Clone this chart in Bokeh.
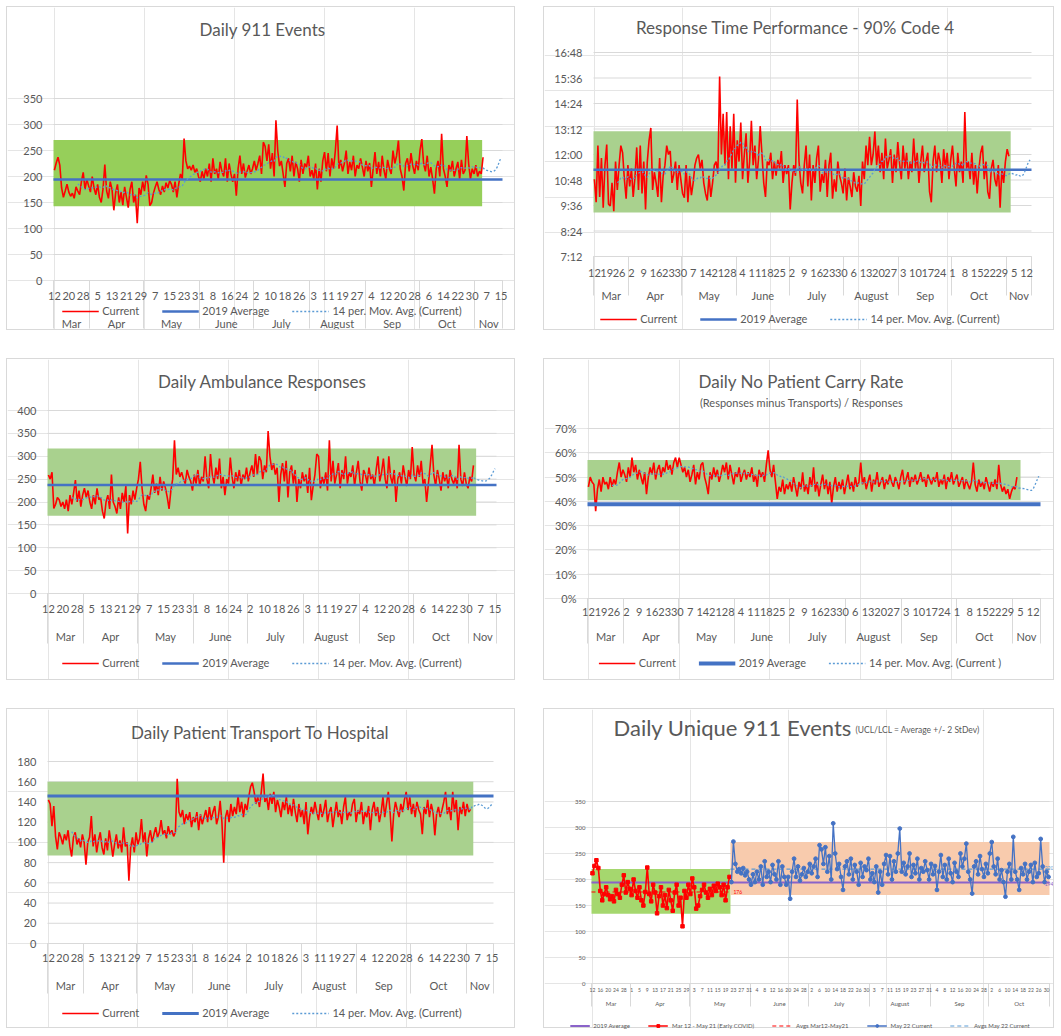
import datetime as dt
import pandas as pd
from bokeh.plotting import figure
from bokeh.layouts import column, row
from bokeh.models import FixedTicker, LinearAxis, Range1d, Legend, LegendItem, Label
from bokeh.embed import file_html
from bokeh.resources import INLINE
from bokeh.core.properties import value

# ---------------- categories / tick labels ----------------
START = dt.date(2020, 3, 12)
MONTH_NAMES = ["Mar", "Apr", "May", "June", "July", "August", "Sep", "Oct", "Nov"]
MONTH_FIRST_DAY = [0, 20, 50, 81, 111, 142, 173, 203, 234]   # day index of the 1st of each month

TICKS_8 = list(range(0, 249, 8))
LABELS_8 = [str((START + dt.timedelta(days=d)).day) for d in TICKS_8]
TICKS_7 = list(range(0, 246, 7))
LABELS_7 = [str((START + dt.timedelta(days=d)).day) for d in TICKS_7]
TICKS_4 = list(range(0, 233, 4))
LABELS_4 = [str((START + dt.timedelta(days=d)).day) for d in TICKS_4]

Y_EVENTS_TICKS = [0, 50, 100, 150, 200, 250, 300, 350]
Y_EVENTS_LABELS = [str(v) for v in Y_EVENTS_TICKS]
Y_RT_TICKS = [432, 504, 576, 648, 720, 792, 864, 936, 1008]
Y_RT_LABELS = ["7:12", "8:24", "9:36", "10:48", "12:00", "13:12", "14:24", "15:36", "16:48"]
Y_AMB_TICKS = [0, 50, 100, 150, 200, 250, 300, 350, 400]
Y_AMB_LABELS = [str(v) for v in Y_AMB_TICKS]
Y_NPC_TICKS = [0, 10, 20, 30, 40, 50, 60, 70]
Y_NPC_LABELS = [f"{v}%" for v in Y_NPC_TICKS]
Y_TR_TICKS = [0, 20, 40, 60, 80, 100, 120, 140, 160, 180]
Y_TR_LABELS = [str(v) for v in Y_TR_TICKS]

# ---------------- series values (daily, from Mar 12) ----------------
EVENTS = [
    212, 226, 237, 222, 178, 160, 172, 185, 170, 162,
    168, 158, 180, 172, 165, 190, 208, 175, 195, 182,
    170, 200, 178, 165, 185, 160, 150, 176, 223, 172,
    158, 190, 175, 135, 168, 185, 150, 170, 145, 180,
    160, 140, 175, 190, 150, 165, 110, 178, 165, 190,
    172, 202, 185, 144, 150, 168, 180, 190, 175, 165,
    182, 170, 188, 178, 192, 185, 170, 190, 160, 185,
    205, 195, 273, 230, 215, 220, 212, 222, 208, 215,
    200, 190, 210, 195, 215, 200, 225, 190, 235, 205,
    215, 195, 228, 210, 200, 235, 190, 225, 205, 190,
    205, 163, 215, 240, 205, 225, 198, 210, 222, 205,
    215, 230, 212, 225, 240, 205, 266, 258, 230, 262,
    215, 245, 200, 308, 250, 220, 230, 205, 180, 225,
    235, 210, 240, 200, 228, 215, 190, 232, 205, 225,
    218, 240, 200, 212, 195, 225, 175, 215, 190, 230,
    247, 210, 245, 200, 235, 215, 250, 298, 215, 232,
    210, 225, 250, 205, 228, 212, 240, 200, 222, 215,
    235, 218, 200, 230, 210, 226, 180, 215, 247, 205,
    228, 200, 240, 212, 195, 232, 215, 205, 250, 225,
    240, 269, 215, 200, 173, 225, 235, 210, 245, 220,
    205, 230, 212, 250, 272, 225, 210, 240, 200, 218,
    195, 167, 215, 230, 200, 282, 215, 200, 180, 222,
    210, 230, 200, 215, 228, 195, 232, 205, 212, 278,
    225, 195, 215, 205, 222, 200, 210, 205, 237,
]
EVENTS_MA_TAIL = [213, 212, 211, 210, 209, 210, 213, 219, 228, 237]
EVENTS_UCL, EVENTS_LCL, EVENTS_AVG2019 = 270, 143, 194

# response time, seconds
RT = [
    650, 585, 745, 600, 710, 570, 690, 748, 580, 575,
    640, 560, 700, 620, 690, 745, 725, 650, 595, 690,
    630, 680, 600, 655, 740, 620, 745, 610, 700, 565,
    700, 760, 795, 620, 670, 640, 600, 710, 585, 660,
    690, 745, 720, 730, 640, 665, 700, 620, 690, 650,
    610, 598, 690, 585, 660, 605, 640, 690, 710, 720,
    680, 705, 640, 610, 590, 660, 600, 640, 690, 700,
    665, 940, 720, 835, 690, 840, 650, 800, 680, 835,
    640, 760, 700, 810, 650, 720, 780, 640, 700, 815,
    690, 745, 650, 705, 800, 720, 640, 600, 700, 690,
    725, 650, 700, 660, 705, 680, 730, 640, 690, 665,
    690, 565, 640, 690, 660, 875, 700, 640, 610, 690,
    745, 630, 720, 590, 690, 640, 710, 745, 615, 665,
    640, 705, 600, 690, 725, 595, 650, 615, 700, 660,
    640, 610, 680, 590, 655, 630, 600, 670, 630, 615,
    660, 575, 700, 650, 745, 690, 770, 690, 720, 785,
    690, 745, 670, 725, 650, 765, 680, 705, 735, 640,
    720, 670, 755, 695, 650, 745, 680, 725, 650, 700,
    670, 765, 680, 725, 640, 700, 745, 670, 700, 725,
    615, 585, 700, 745, 670, 725, 700, 640, 735, 680,
    725, 650, 705, 745, 680, 630, 725, 670, 700, 640,
    840, 680, 700, 650, 725, 635, 690, 610, 680, 725,
    745, 650, 700, 615, 595, 680, 705, 650, 630, 690,
    570, 680, 640, 700, 735, 715,
]
RT_MA_TAIL = [668, 666, 664, 662, 664, 660, 658, 662, 672, 685, 698, 705]
RT_UCL, RT_LCL, RT_AVG2019 = 786, 556, 677

AMB = [
    259, 250, 265, 186, 195, 210, 205, 190, 200, 185,
    205, 180, 215, 195, 220, 248, 200, 225, 190, 215,
    230, 210, 225, 200, 185, 215, 195, 230, 205, 210,
    180, 164, 200, 215, 185, 260, 200, 190, 175, 210,
    185, 220, 200, 235, 131, 215, 195, 225, 205, 230,
    250, 288, 230, 195, 180, 215, 205, 230, 260, 220,
    240, 215, 255, 225, 245, 230, 210, 185, 225, 250,
    335, 260, 275, 255, 265, 250, 240, 270, 255, 245,
    225, 260, 240, 270, 235, 255, 245, 300, 250, 230,
    305, 260, 240, 275, 250, 295, 230, 255, 215, 250,
    240, 297, 255, 230, 265, 245, 270, 235, 260, 250,
    275, 245, 265, 280, 255, 305, 260, 300, 290, 250,
    280, 265, 355, 300, 270, 285, 260, 275, 200, 260,
    285, 245, 290, 210, 265, 280, 240, 270, 200, 250,
    230, 265, 245, 260, 220, 275, 204, 235, 260, 305,
    300, 230, 255, 240, 265, 225, 335, 245, 290, 240,
    260, 285, 230, 270, 250, 300, 240, 265, 255, 280,
    235, 265, 290, 245, 225, 270, 260, 240, 275, 250,
    260, 235, 270, 300, 245, 265, 295, 250, 230, 300,
    255, 240, 270, 200, 250, 265, 240, 280, 255, 235,
    270, 250, 320, 260, 245, 280, 255, 290, 240, 250,
    200, 240, 280, 325, 260, 235, 270, 250, 225, 265,
    245, 260, 230, 270, 250, 240, 255, 230, 325, 250,
    235, 265, 240, 230, 255, 245, 280,
]
AMB_MA_TAIL = [250, 249, 248, 247, 246, 245, 246, 248, 252, 258, 266, 273]
AMB_UCL, AMB_LCL, AMB_AVG2019 = 317, 170, 237

# no patient carry rate, percent
NPC = [
    46, 50, 48, 47, 36, 45, 49, 44, 50, 47,
    48, 45, 50, 46, 49, 47, 52, 56, 50, 53,
    51, 48, 54, 50, 58, 52, 55, 49, 53, 50,
    47, 52, 43, 50, 54, 51, 56, 49, 53, 55,
    50, 54, 52, 57, 53, 55, 51, 56, 58, 54,
    58, 55, 52, 54, 50, 53, 48, 51, 55, 47,
    52, 49, 55, 56, 50, 47, 43, 52, 49, 54,
    50, 53, 48, 51, 55, 52, 56, 49, 55, 51,
    47, 52, 50, 54, 48, 51, 53, 49, 52, 50,
    54, 48, 51, 46, 53, 50, 52, 48, 55, 61,
    53, 50, 55, 48, 41, 46, 44, 49, 43, 47,
    45, 48, 44, 50, 46, 42, 48, 45, 52, 44,
    47, 43, 50, 46, 54, 44, 48, 42, 47, 51,
    45, 49, 43, 48, 39, 46, 50, 44, 48, 45,
    49, 43, 47, 51, 45, 48, 44, 50, 46, 48,
    56, 47, 50, 45, 48, 51, 44, 49, 47, 52,
    46, 48, 50, 45, 49, 47, 51, 48, 46, 50,
    48, 45, 50, 53, 47, 49, 52, 46, 50, 48,
    51, 47, 49, 52, 48, 50, 46, 51, 49, 47,
    50, 48, 52, 46, 49, 47, 51, 45, 50, 48,
    52, 47, 49, 51, 46, 48, 50, 45, 49, 47,
    45, 48, 56, 47, 44, 49, 46, 48, 45, 50,
    47, 44, 48, 46, 49, 45, 55, 47, 44, 46,
    43, 45, 41, 44, 46, 45, 50,
]
NPC_MA_TAIL = [45.5, 45.4, 45.3, 45.2, 45.0, 44.8, 44.6, 44.5, 45.2, 46.8, 48.6, 50.3]
NPC_UCL, NPC_LCL, NPC_AVG2019 = 57.0, 40.5, 38.8

TR = [
    142, 138, 116, 136, 106, 93, 110, 105, 98, 108,
    102, 112, 96, 86, 105, 110, 98, 104, 95, 108,
    100, 78, 100, 105, 126, 96, 108, 90, 102, 110,
    95, 88, 104, 92, 112, 100, 86, 98, 108, 94,
    102, 90, 115, 96, 100, 62, 95, 105, 90, 110,
    98, 104, 123, 100, 110, 86, 104, 112, 100, 108,
    115, 105, 110, 122, 108, 112, 104, 116, 108, 112,
    106, 110, 163, 130, 125, 132, 118, 128, 122, 130,
    115, 125, 120, 130, 112, 128, 118, 125, 132, 120,
    135, 122, 130, 136, 118, 125, 141, 120, 80, 125,
    132, 120, 138, 126, 135, 128, 146, 130, 140, 125,
    138, 132, 145, 155, 159, 150, 138, 145, 135, 150,
    168, 140, 145, 132, 148, 138, 150, 130, 142, 135,
    125, 140, 132, 145, 128, 138, 126, 143, 130, 120,
    138, 125, 132, 118, 140, 108, 125, 135, 128, 140,
    130, 122, 138, 125, 132, 142, 120, 130, 135, 115,
    128, 140, 125, 132, 118, 135, 145, 122, 130, 126,
    138, 143, 120, 132, 128, 140, 118, 130, 125, 136,
    112, 132, 140, 126, 135, 120, 130, 145, 125, 138,
    150, 130, 101, 128, 140, 132, 125, 138, 130, 142,
    150, 132, 145, 128, 138, 125, 140, 132, 128, 108,
    135, 128, 142, 125, 138, 130, 107, 128, 135, 125,
    132, 140, 150, 128, 135, 122, 150, 130, 142, 112,
    135, 128, 140, 126, 138, 130, 133,
]
TR_MA_TAIL = [136, 136, 137, 137, 138, 137, 136, 134, 133, 134, 136, 138]
TR_UCL, TR_LCL, TR_AVG2019 = 160, 87, 146

# daily unique 911 events (split at May 22)
UNIQUE_SPLIT = 71
UNIQUE_LAST = 234
EARLY_UCL, EARLY_LCL, EARLY_AVG = 220, 134, 176
LATE_UCL, LATE_LCL, LATE_AVG = 272, 170, 220
UNIQUE_AVG2019 = 194

# ---------------- styling ----------------
FONT = "Lato"
GRAY = "#595959"
GRID = "#d9d9d9"
RED = "#ff0000"
BLUE = "#4472c4"
MA_COLOR = "#5b9bd5"
GREEN_BRIGHT = "#96cf5a"
GREEN_SOFT = "#a9d18e"
GREEN_6 = "#a5d76e"
ORANGE_6 = "#f8cbad"
PURPLE = "#8a63c9"
TITLE_PX = 17


def make_fig(W, H, box, xr, yr):
    left, right, top, bottom = box
    x0, x1 = xr
    y0, y1 = yr
    pxd = (right - left) / (x1 - x0)
    pyu = (bottom - top) / (y1 - y0)
    p = figure(width=W, height=H,
               x_range=Range1d(x0 - left / pxd, x1 + (W - right) / pxd),
               y_range=Range1d(y0 - (H - bottom) / pyu, y1 + top / pyu),
               x_axis_location=None, y_axis_location=None, min_border=0,
               output_backend="svg", toolbar_location=None)
    p.outline_line_color = None
    p.background_fill_color = "white"
    p.border_fill_color = "white"
    p.styles = {"border": "1px solid #d9d9d9"}
    return p


def add_text(p, H, x, y, text, px, align="center"):
    p.add_layout(Label(x=x, y=H - y, x_units="screen", y_units="screen", text=text,
                       text_align=align, text_baseline="middle", text_font=FONT,
                       text_font_size=f"{px}px", text_color=GRAY))


def add_y(p, ticks, labels, xr, px, so):
    x0, x1 = xr
    p.segment(x0=[x0] * len(ticks), x1=[x1] * len(ticks), y0=ticks, y1=ticks,
              line_color=GRID, line_width=1)
    ax = LinearAxis(fixed_location=x0, bounds=(ticks[0], ticks[-1]), ticker=FixedTicker(ticks=ticks),
                    major_label_overrides=dict(zip(ticks, labels)))
    ax.axis_line_color = None
    ax.major_tick_line_color = None
    ax.minor_tick_line_color = None
    ax.major_tick_in = 0
    ax.major_tick_out = 0
    ax.major_label_standoff = so
    ax.major_label_text_font = FONT
    ax.major_label_text_font_size = f"{px}px"
    ax.major_label_text_color = GRAY
    p.add_layout(ax, "left")


def add_x(p, ticks, labels, xr, y0, n_months, day_px, month_px, day_dy, month_dy, sep_len):
    x0, x1 = xr
    bounds = [-0.5] + [m - 0.5 for m in MONTH_FIRST_DAY[1:n_months]] + [x1]
    centers = [(a + b) / 2 for a, b in zip(bounds[:-1], bounds[1:])]

    sep = LinearAxis(fixed_location=y0, bounds=(x0 - 0.01, x1 + 0.01),
                     ticker=FixedTicker(ticks=[], minor_ticks=bounds))
    sep.axis_line_color = None
    sep.major_tick_line_color = None
    sep.minor_tick_line_color = GRID
    sep.minor_tick_in = 0
    sep.minor_tick_out = sep_len
    sep.major_label_text_font_size = "1px"
    p.add_layout(sep, "below")

    day = LinearAxis(fixed_location=y0, bounds=(x0, x1), ticker=FixedTicker(ticks=ticks),
                     major_label_overrides=dict(zip(ticks, labels)))
    day.axis_line_color = GRID
    day.major_tick_line_color = None
    day.minor_tick_line_color = None
    day.major_tick_in = 0
    day.major_tick_out = 0
    day.major_label_standoff = max(0, round(day_dy - 0.58 * day_px))
    day.major_label_text_font = FONT
    day.major_label_text_font_size = f"{day_px}px"
    day.major_label_text_color = GRAY
    p.add_layout(day, "below")

    mon = LinearAxis(fixed_location=y0, bounds=(x0, x1), ticker=FixedTicker(ticks=centers),
                     major_label_overrides=dict(zip(centers, MONTH_NAMES[:n_months])))
    mon.axis_line_color = None
    mon.major_tick_line_color = None
    mon.minor_tick_line_color = None
    mon.major_tick_in = 0
    mon.major_tick_out = 0
    mon.major_label_standoff = max(0, round(month_dy - 0.58 * month_px))
    mon.major_label_text_font = FONT
    mon.major_label_text_font_size = f"{month_px}px"
    mon.major_label_text_color = GRAY
    p.add_layout(mon, "below")


def add_legend(p, H, items, center_y, px=11, glyph_w=37, spacing=22):
    h = max(12, 1.2 * px)
    leg = Legend(items=items, orientation="horizontal", location="bottom_center",
                 margin=max(0, round(H - center_y - h / 2)), padding=0, spacing=spacing,
                 glyph_width=glyph_w, glyph_height=min(12, round(1.2 * px)),
                 label_height=min(12, round(1.2 * px)), label_standoff=4,
                 border_line_color=None, background_fill_alpha=0,
                 label_text_font=FONT, label_text_font_size=f"{px}px", label_text_color=GRAY)
    p.add_layout(leg)


def moving_avg(vals, tail):
    s = pd.Series(vals, dtype=float).rolling(14).mean()
    xs = list(range(13, len(vals))) + list(range(len(vals), len(vals) + len(tail)))
    ys = list(s.iloc[13:]) + list(tail)
    return xs, ys


def standard_panel(W, H, box, x1, yr, yticks, ylabels, ticks, labels, vals, tail,
                   lcl, ucl, avg, band_end, green, avg_w, ma_label,
                   title, title_xy, day_dy, month_dy, legend_dy, sep_len,
                   subtitle=None, sub_y=None):
    xr = (-0.5, x1)
    p = make_fig(W, H, box, xr, yr)
    add_y(p, yticks, ylabels, xr, 11, 11)
    days = list(range(len(vals)))
    p.quad(left=-0.5, right=band_end, bottom=lcl, top=ucl, fill_color=green, line_color=None)
    r_cur = p.line(days, vals, color=RED, line_width=1.6)
    r_avg = p.line([-0.5, x1], [avg, avg], color=BLUE, line_width=avg_w)
    mx, my = moving_avg(vals, tail)
    r_ma = p.line(mx, my, color=MA_COLOR, line_width=1.3, line_dash="2 2")
    add_x(p, ticks, labels, xr, yr[0], 9, 11, 11, day_dy, month_dy, sep_len)
    items = [LegendItem(label="Current", renderers=[r_cur]),
             LegendItem(label="2019 Average", renderers=[r_avg]),
             LegendItem(label=ma_label, renderers=[r_ma])]
    add_legend(p, H, items, box[3] + legend_dy)
    add_text(p, H, title_xy[0], title_xy[1], title, TITLE_PX)
    if subtitle:
        add_text(p, H, title_xy[0], sub_y, subtitle, 11)
    return p


WL, WR = 509, 511
H1, H2, H3 = 324, 322, 320

p1 = standard_panel(WL, H1, (46, 495, 91, 273), 248.8, (0, 350), Y_EVENTS_TICKS, Y_EVENTS_LABELS,
                    TICKS_8, LABELS_8, EVENTS, EVENTS_MA_TAIL, EVENTS_LCL, EVENTS_UCL, EVENTS_AVG2019,
                    237.5, GREEN_BRIGHT, 2.5, "14 per. Mov. Avg. (Current)",
                    "Daily 911 Events", (255, 22), 17, 42, 30, 48)

p2 = standard_panel(WR, H1, (49, 487, 45, 249), 247.8, (432, 1008), Y_RT_TICKS, Y_RT_LABELS,
                    TICKS_7, LABELS_7, RT, RT_MA_TAIL, RT_LCL, RT_UCL, RT_AVG2019,
                    236, GREEN_SOFT, 2.5, "14 per. Mov. Avg. (Current)",
                    "Response  Time Performance - 90% Code 4", (253, 20), 18, 38, 62, 39)

p3 = standard_panel(WL, H2, (40, 489, 51, 234), 248.8, (0, 400), Y_AMB_TICKS, Y_AMB_LABELS,
                    TICKS_8, LABELS_8, AMB, AMB_MA_TAIL, AMB_LCL, AMB_UCL, AMB_AVG2019,
                    237.5, GREEN_SOFT, 2.5, "14 per. Mov. Avg. (Current)",
                    "Daily Ambulance Responses", (255, 22), 17, 42, 69, 50)

p4 = standard_panel(WR, H2, (43, 496, 69, 239), 249, (0, 70), Y_NPC_TICKS, Y_NPC_LABELS,
                    TICKS_7, LABELS_7, NPC, NPC_MA_TAIL, NPC_LCL, NPC_UCL, NPC_AVG2019,
                    238, GREEN_SOFT, 4, "14 per. Mov. Avg. (Current )",
                    "Daily No Patient Carry Rate", (257, 22), 15, 37, 64, 45,
                    subtitle="(Responses minus Transports) / Responses", sub_y=43)

p5 = standard_panel(WL, H3, (40, 486, 52, 234), 248.8, (0, 180), Y_TR_TICKS, Y_TR_LABELS,
                    TICKS_8, LABELS_8, TR, TR_MA_TAIL, TR_LCL, TR_UCL, TR_AVG2019,
                    237.5, GREEN_SOFT, 3, "14 per. Mov. Avg. (Current)",
                    "Daily Patient Transport To Hospital", (253, 23), 16, 41, 69, 50)

# ---------------- panel 6 ----------------
X6_END = UNIQUE_LAST - 0.5
xr6 = (-0.5, X6_END)
box6 = (47, 505, 92, 274)
p6 = make_fig(WR, H3, box6, xr6, (0, 350))
add_y(p6, Y_EVENTS_TICKS, Y_EVENTS_LABELS, xr6, 6, 6)

early_x = list(range(0, UNIQUE_SPLIT))
early_y = EVENTS[:UNIQUE_SPLIT]
late_x = list(range(UNIQUE_SPLIT, UNIQUE_LAST))
late_y = EVENTS[UNIQUE_SPLIT:UNIQUE_LAST]
split_edge = UNIQUE_SPLIT - 0.5

p6.quad(left=-0.5, right=split_edge, bottom=EARLY_LCL, top=EARLY_UCL, fill_color=GREEN_6, line_color=None)
p6.quad(left=split_edge, right=X6_END, bottom=LATE_LCL, top=LATE_UCL, fill_color=ORANGE_6, line_color=None)
r19 = p6.line([-0.5, X6_END], [UNIQUE_AVG2019, UNIQUE_AVG2019], color=PURPLE, line_width=2)
r_ea = p6.line([-0.5, split_edge], [EARLY_AVG, EARLY_AVG], color=RED, line_width=1.2, line_dash="4 3")
r_la = p6.line([split_edge, X6_END], [LATE_AVG, LATE_AVG], color=MA_COLOR, line_width=1.2, line_dash="4 3")
r_el = p6.line(early_x, early_y, color=RED, line_width=1.6)
r_es = p6.scatter(early_x, early_y, marker="square", size=3.5, color=RED)
r_ll = p6.line(late_x, late_y, color=BLUE, line_width=1.3)
r_ls = p6.scatter(late_x, late_y, marker="circle", size=3.8, color=BLUE)
p6.text(x=[UNIQUE_SPLIT + 1], y=[EARLY_AVG], text=[str(EARLY_AVG)], text_color=RED,
        text_font=value(FONT), text_font_size="5px", text_baseline="middle")
p6.text(x=[X6_END + 2], y=[LATE_AVG + 2], text=[str(LATE_AVG)], text_color=MA_COLOR, text_align="right",
        text_font=value(FONT), text_font_size="5px", text_baseline="middle")
p6.text(x=[X6_END + 2], y=[UNIQUE_AVG2019 - 3], text=[str(UNIQUE_AVG2019)], text_color=PURPLE,
        text_align="right", text_font=value(FONT), text_font_size="5px", text_baseline="middle")

add_x(p6, TICKS_4, LABELS_4, xr6, 0, 8, 5, 6, 7, 19, 23)
items6 = [LegendItem(label="2019 Average", renderers=[r19]),
          LegendItem(label="Mar 12 - May 21 (Early COVID)", renderers=[r_el, r_es]),
          LegendItem(label="Avgs Mar12-May21", renderers=[r_ea]),
          LegendItem(label="May 22 Current", renderers=[r_ll, r_ls]),
          LegendItem(label="Avgs May 22 Current", renderers=[r_la])]
add_legend(p6, H3, items6, box6[3] + 40, px=6, glyph_w=20, spacing=18)
add_text(p6, H3, 69, 18, "Daily Unique 911 Events", 22, align="left")
add_text(p6, H3, 311, 20, "(UCL/LCL = Average +/- 2 StDev)", 8.5, align="left")

layout = column(row(p1, p2, spacing=28), row(p3, p4, spacing=28), row(p5, p6, spacing=28),
                spacing=28, margin=(6, 0, 0, 6))
open("out.html", "w").write(file_html(layout, INLINE))
